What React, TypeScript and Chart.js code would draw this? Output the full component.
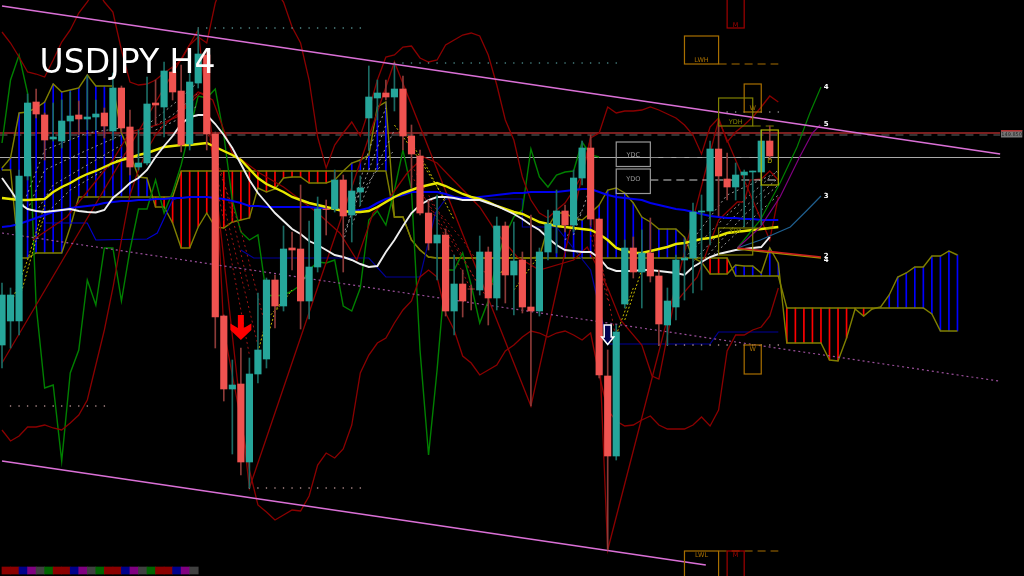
import React, { useEffect, useRef } from "react";
import { Chart, registerables } from "chart.js";

Chart.register(...registerables);

// All price-like values are "depth below the chart's top", so the value axis is reversed.
const opens = [345,321,321,176,102,115,139,141,121,115,119,117,113,131,88,127,167,163,103,107,72,91,144,83,55,134,316,389,384,462,374,359,280,306,248,249,301,267,209,209,180,215,192,118,98,93,97,89,136,156,213,243,235,311,284,289,290,252,298,226,275,260,307,311,252,225,211,225,178,148,219,376,456,304,248,272,253,276,325,307,260,258,212,211,149,179,187,175,172,172,141];
const closes = [295,295,176,103,114,140,137,121,116,119,117,114,126,88,128,167,163,104,105,71,92,145,82,54,134,317,389,385,462,374,350,280,306,249,250,301,267,209,209.6,180,216,191,188,97,93,97,89,136,154,213,243,235,311,284,301,289,252,298,226,275,261,307,311,252,224,211,225,178,148,219,375,456,332,248,272,253,276,324,301,260,258,212,211,149,176,187,175,172,171,141,156];
const highs = [283,288,170,94,89,113,103,100,92,101,76,100,108,73,86,110,130,77,80,62,68,65,70,29,50,132,315,360,348,358,293,278,275,226,232,185,221,197,200,170,175,172,176,66,80,80,65,76,125,150,200,195,229,255,270,285,236,247,217,222,222,252,215,248,210,190,205,170,141,135,218,350,325,240,237,230,218,270,288,255,240,203,195,141,120,153,163,170,171,130,126];
const lows = [368,348,335,180,118,160,141,148,140,135,130,130,138,140,132,175,170,165,125,137,100,152,150,88,150,348,401,454,475,488,383,368,328,311,270,329,319,272,235,212,272,242,205,150,120,100,111,150,188,215,250,280,316,335,317,310,295,325,310,303,315,313,406,316,260,253,232,232,185,225,378,550,460,308,278,308,282,345,345,320,300,293,290,245,216,200,200,227,228,225,160];

const whiteMA = [178,190,203,209,211,212,211,210,209,211,212,212.5,210,198,191,183,178,170,157,146,136,124,117,115,115,124,135,148,164,180,193,203,213,221,229,234,241,245,250,255,257,260,264,267,266,252,240,226,213,205,200,197,197,198,200,200,200,203,206,210,214,219,225,230,238,245,250,251,252,252,258,268,271,271,271,270,270,271,272,273,275,267,262,257,254,252,250,249,248,247,237];
const yellowMA = [198,199,200,200,199.5,199,192,187,183,178,174,171,167,163,160,158,155,153,150,147,146,145,145,144,143,147,151,155,160,169,178,184,188,192,197,200,203,205,207,209,211,212,212,211,207,202,197,193,190,187,185,183,186,190,194,197,199,202,206,209,212,214,218,222,224,226,227,228,229,230,234,240,248,251,253,253,251,249,247,244,243,241,239,238,236,233,232,231,230,229,228,227];
const blueMA = [227,226,224,221,218,215,212,210,208,207,206,205,203,202,201,201,200,200,199,199,198,198,197,197,197,198,199,201,203,206,206,207,207,207,207,207,207,208,208,208,212,211,210,208,203,199,197,195,192,192,192,192,194,197,198,198,197,196,195,194,193,193,192,192,192,192,191,190,189,189,192,195,197,198,199,200,203,205,207,209,210,212,214,216,217,218,218,219,219,220,220,220];
const chikou = [143,80,55,93,305,388,385,461,373,350,280,305,248,248,301,250,209,209,180,213,192,165,130,96,98,89,135,200,232,240,235,295,296,295,291,285,270,262,263,260,306,311,288,220,211,225,190,150,190,350,455,370,270,270,253,285,323,301,260,235,217,210,149,177,187,175,172,171,142,155,157];
const upperBand = [32,43,57,72,74,77,60,42,30,13,2,-12,2,12,50,82,85,84,80,73,67,60,45,37,43,3,-20,-30,-30,-30,-30,-25,-10,2,27,43,80,137,168,145,133,122,136,110,80,57,55,47,46,58,62,60,45,40,35,33,36,55,85,120,140,177,200,213,218,210,203,190,175,138,133,107,113,111,111,110,107,110,114,118,125,135,154,127,118,142,132,125,117,107,96,102];
const lowerBand = [430,441,436,427,427,425,428,430,423,415,400,365,330,288,240,195,170,150,135,125,118,112,100,92,95,160,330,375,420,470,505,512,520,515,510,511,496,465,453,458,449,425,373,355,343,338,323,310,301,277,270,277,313,330,356,363,375,370,365,351,345,337,331,333,337,333,331,335,340,333,375,410,421,426,425,420,416,425,429,429,429,425,417,426,410,351,335,335,330,327,316,288];
const midBand: number[][] = [[3.6,240],[7.6,217],[13,160],[15,132],[18.2,125],[20.5,117],[23.2,93],[24.7,100],[27,153],[30.2,173],[33,187],[37,213],[39.6,233],[41.6,260],[43.5,213],[45.5,197],[47.5,173],[49.4,157],[51,163],[52.9,180],[56,207],[58,233],[60.4,257],[63,270],[67,260],[68.6,247],[71,288],[72.5,320],[75,345],[76.2,376],[77,379],[78.7,305],[81.5,277],[84,220],[86.2,202],[87,202],[87.7,180],[89,179],[90,171],[91,180]];
const zigzag: number[][] = [[0,363],[23,30],[29,488],[46,62],[62,406],[69,137],[71,550],[84,120],[90,240],[91,197]];
const navyUpper: number[][] = [[5,223],[10,223],[11,240],[17,239],[18.2,233],[20,200],[21,197]];
const navyLower: number[][] = [[28,250],[29.5,258],[39.6,258],[43,258],[45,277],[49,277],[50.8,213],[52,199],[61,199],[61,227],[65,227],[69,270],[71,344],[83,344],[84,332],[91,332]];

const spanA = [168,158,113,112,108,102,84,92,90,88,75,86,86,86,133,153,177,178,207,207,223,248,248,227,213,227,228,222,220,218,188,192,189,178,177,177,183,183,183,180,171,163,160,155,107,102,217,217,240,250,257,258,258,258,258,258,258,258,258,258,258,258,258,257,227,213,213,218,220,213,205,190,188,193,203,217,222,229,229,229,237,258,262,274,274,274,265,266,266,273,248,263,343,343,343,343,343,360,361,338,309,316,309,307,295,277,273,267,267,256,256,251,255];
const spanB = [170,170,258,258,253,253,253,253,227,197,197,197,197,197,197,197,197,197,197,197,197,171,171,171,171,171,171,171,171,171,171,171,171,171,171,171,171,171,171,171,171,171,171,171,171,171,217,217,240,250,257,258,258,258,258,258,258,258,258,258,258,258,258,258,258,258,258,258,258,258,258,258,258,258,258,258,258,258,258,258,258,258,258,258,258,258,276,276,276,276,276,276,308,308,308,308,308,308,308,308,308,308,308,308,308,308,308,308,308,314,331,331,331];

const grayFans: number[][][] = [
  [[2,215],[5,150],[10,133],[14,128]],[[3,210],[5,170],[10,150],[14,135]],[[4,212],[6,185],[10,165],[14,145]],[[5,215],[8,190],[12,170],[15,150]],
  [[17,125],[20,105],[23,82]],[[17,130],[20,115],[23,93]],[[18,130],[21,118],[23,105]],
  [[40,242],[43,150],[45,108]],[[40,235],[43,170],[45,125]],[[41,225],[44,165],[46,130]],[[41,205],[44,170],[46,150]],
  [[67,235],[69,186]],[[66,240],[68,210]],
  [[80,250],[85,195],[91,172]],[[80,258],[85,215],[91,170]],[[81,262],[86,215],[91,178]],[[82,262],[87,215],[91,185]],[[83,258],[88,218],[91,195]],
];
const redFans: number[][][] = [
  [[24,130],[26,180],[29,290]],[[25,160],[28,230],[31,330]],[[25,170],[27,240],[30,345]],[[25,180],[26,220],[29,355]],
  [[48,165],[52,225],[56,288]],[[48,175],[51,220],[55,290]],[[49,190],[53,245],[57,300]],[[50,200],[54,240],[58,290]],
  [[69,225],[71,290]],[[69,235],[71,300]],[[70,250],[72,340]],
];
const yellowFans: number[][][] = [
  [[1,305],[3,260],[5,205]],[[2,300],[4,240],[5,215]],[[30,352],[31,320],[33,300]],[[31,340],[32,312],[34,290]],
  [[46,125],[49,160],[52,200]],[[47,130],[50,170],[53,220]],[[58,280],[60,250]],[[60,290],[63,255]],
  [[72,335],[74,288]],[[73,320],[75,270]],
];

const projGreen: number[][] = [[86.2,248],[88.9,220],[91.2,183],[93.2,147],[94.7,113],[96,87]];
const projPurple: number[][] = [[86.2,248],[88.9,227],[91.2,197],[93.5,157],[95,133],[95.9,125]];
const projSteel: number[][] = [[86.2,248],[88.9,240],[92.4,227],[94.4,210],[96,196]];
const projRed: number[][] = [[86.2,248],[96,257]];
const projOlive: number[][] = [[86.2,249],[96,258]];

const channelTop: number[][] = [[0,6],[117,154]];
const channelBottom: number[][] = [[0,461],[82.5,565]];
const channelMiddle: number[][] = [[0,233],[116.8,381]];

const levelRed: number[][] = [[-0.3,133],[117,133]];
const levelDash: number[][] = [[-0.3,135],[117,135]];
const levelGray: number[][] = [[-0.3,157.5],[117,157.5]];

const dotLevels = [
  { from: 23, to: 42, at: 28, color: "#5f9f9f" },
  { from: 46, to: 72, at: 63, color: "#4f8f8f" },
  { from: 84, to: 91, at: 112, color: "#999999" },
  { from: 1, to: 12, at: 406, color: "#c09a9a" },
  { from: 29, to: 42, at: 488, color: "#c09a9a" },
  { from: 77, to: 91, at: 345, color: "#c0a0a0" },
];
const dashLevels = [
  { from: 84, to: 91, at: 64, color: "#a86f00" },
  { from: 88, to: 91, at: 126, color: "#808000" },
  { from: 76, to: 88, at: 157.5, color: "#888888" },
  { from: 76, to: 91, at: 180, color: "#cccccc" },
  { from: 88, to: 91, at: 228, color: "#808000" },
  { from: 84, to: 91, at: 551, color: "#a86f00" },
];

const zoneLabels = ["LWH","M","W","YDH","D","YDC","YDO","YDL","W","LWL","M"];
const zoneLeft = [80,85,87,84,89,72,72,84,87,80,85];
const zoneRight = [84,87,89,88,91,76,76,88,89,84,87];
const zoneTop = [36,-4,84,98,130,142,169,228,345,551,551];
const zoneBottom = [64,28,112,126,185,166.5,193.5,255,374,600,600];
const zoneLabelAt = [60,25,108,122,161,155,179,231,349,555,555];
const zoneColors = ["#a86f00","#a00000","#a86f00","#808000","#b0b000","#999999","#999999","#808000","#a86f00","#a86f00","#a00000"];

const projLabels = ["4","5","3","2","4"];
const projLabelBar = [96.5,96.5,96.5,96.5,96.5];
const projLabelAt = [87,124,196,256,260];

const stripColors = ["#8b0000","#8b0000","#00008b","#800080","#404040","#006400","#8b0000","#8b0000","#00008b","#800080","#404040","#006400","#8b0000","#8b0000","#00008b","#800080","#404040","#006400","#8b0000","#8b0000","#00008b","#800080","#404040"];
const stripTop = 567;
const stripBottom = 574;

const title = "USDJPY H4";
const priceTag = "149.850";

const BULL = "#26a69a";
const BEAR = "#ef5350";
const BULL_WICK = "#1b6a63";
const BEAR_WICK = "#8c3a38";

const toPoints = (pairs: number[][]) => pairs.map(([x, y]) => ({ x, y }));
const perBar = (values: number[]) => values.map((y, i) => ({ x: i, y }));

const overlay = {
  id: "overlay",
  afterDatasetsDraw(chart: any) {
    const { ctx, scales } = chart;
    const X = (v: number) => scales.x.getPixelForValue(v);
    const Y = (v: number) => scales.y.getPixelForValue(v);
    ctx.save();
    zoneLabels.forEach((label, i) => {
      const left = X(zoneLeft[i]), right = X(zoneRight[i]);
      ctx.strokeStyle = zoneColors[i];
      ctx.lineWidth = 1.2;
      ctx.strokeRect(left, Y(zoneTop[i]), right - left, Y(zoneBottom[i]) - Y(zoneTop[i]));
      ctx.fillStyle = zoneColors[i];
      ctx.font = "6.5px 'DejaVu Sans'";
      ctx.textAlign = "center";
      ctx.textBaseline = "middle";
      ctx.fillText(label, (left + right) / 2, Y(zoneLabelAt[i]));
    });

    projLabels.forEach((label, i) => {
      ctx.fillStyle = "#ffffff";
      ctx.font = "bold 7px 'DejaVu Sans'";
      ctx.textAlign = "center";
      ctx.textBaseline = "middle";
      ctx.fillText(label, X(projLabelBar[i]) + 1, Y(projLabelAt[i]));
    });

    // sell arrow
    const rx = X(28), ry = Y(315);
    ctx.fillStyle = "#ff0000";
    ctx.beginPath();
    [[-3,0],[3,0],[3,13],[10.5,8.5],[10.5,15],[0,25],[-10.5,15],[-10.5,8.5],[-3,13]].forEach(([dx, dy], k) =>
      k ? ctx.lineTo(rx + dx, ry + dy) : ctx.moveTo(rx + dx, ry + dy));
    ctx.closePath();
    ctx.fill();

    // outlined arrow
    const wx = X(71), wy = Y(325);
    ctx.fillStyle = "#000050";
    ctx.strokeStyle = "#ffffff";
    ctx.lineWidth = 1.5;
    ctx.beginPath();
    [[-3.5,0],[3.5,0],[3.5,12],[6,12],[0,19.5],[-6,12],[-3.5,12]].forEach(([dx, dy], k) =>
      k ? ctx.lineTo(wx + dx, wy + dy) : ctx.moveTo(wx + dx, wy + dy));
    ctx.closePath();
    ctx.fill();
    ctx.stroke();

    // price tag
    const tagL = X(117.1), tagR = X(119.6), tagT = Y(130), tagB = Y(137.5);
    ctx.fillStyle = "#777777";
    ctx.fillRect(tagL, tagT, tagR - tagL, tagB - tagT);
    ctx.fillStyle = "#b03030";
    ctx.fillRect(tagL, tagT, tagR - tagL, 1.5);
    ctx.fillStyle = "#222222";
    ctx.font = "5px 'DejaVu Sans'";
    ctx.textAlign = "center";
    ctx.textBaseline = "middle";
    ctx.fillText(priceTag, (tagL + tagR) / 2, Y(134.5));

    ctx.fillStyle = "#ffffff";
    ctx.font = "33px 'DejaVu Sans'";
    ctx.textAlign = "left";
    ctx.textBaseline = "alphabetic";
    ctx.fillText(title, X(4.4), Y(73));
    ctx.restore();
  },
};

export default function App() {
  const ref = useRef<HTMLCanvasElement>(null);
  useEffect(() => {
    document.body.style.margin = "0";
    document.body.style.background = "#000";
    const line = (data: any[], color: string, width = 1, dash: number[] = []) => ({
      type: "line",
      data,
      borderColor: color,
      borderWidth: width,
      borderDash: dash,
      pointRadius: 0,
      tension: 0,
      spanGaps: true,
      fill: false,
    });
    const bars = (data: any[], colors: string | string[], thickness: number) => ({
      type: "bar",
      data,
      backgroundColor: colors,
      barThickness: thickness,
      grouped: false,
      borderWidth: 0,
      borderSkipped: false,
    });
    const dots = (from: number, to: number, at: number, color: string) => {
      const data: { x: number; y: number }[] = [];
      for (let i = from; i <= to; i++) data.push({ x: i, y: at });
      return { type: "line", data, showLine: false, pointRadius: 0.8, pointBorderWidth: 0, pointBackgroundColor: color };
    };

    const back: any[] = [
      line(toPoints(levelRed), "#a52a2a", 1.4),
      line(toPoints(levelDash), "#666666", 1.2, [8, 6]),
      line(toPoints(levelGray), "#aaaaaa", 1.2),
      bars(spanA.map((a, i) => ({ x: i, y: [a, spanB[i]] })), spanA.map((a, i) => (a < spanB[i] ? "#0000ff" : "#ff0000")), 1),
      line(perBar(spanA), "#808000", 1.4),
      line(perBar(spanB), "#808000", 1.4),
      line(toPoints(navyUpper), "#0000cc", 1.2),
      line(toPoints(navyLower), "#000099", 1.2),
      line(perBar(chikou), "#008000", 1.4),
      ...grayFans.map((f) => line(toPoints(f), "#9a9a9a", 1, [2, 3])),
      ...redFans.map((f) => line(toPoints(f), "#a01515", 1, [2, 3])),
      ...yellowFans.map((f) => line(toPoints(f), "#c8bc00", 1, [2, 2])),
      line(perBar(upperBand), "#8b0000", 1.3),
      line(perBar(lowerBand), "#8b0000", 1.3),
      line(toPoints(midBand), "#8b0000", 1.3),
      line(toPoints(zigzag), "#8b0000", 1.3),
      line(perBar(blueMA), "#0000ee", 2.2),
      line(perBar(yellowMA), "#e8e800", 2.4),
      line(perBar(whiteMA), "#eeeeee", 1.9),
      line(toPoints(projGreen), "#008000", 1.2),
      line(toPoints(projPurple), "#800080", 1.2),
      line(toPoints(projSteel), "#1f5f8f", 1.2),
      line(toPoints(projOlive), "#a09000", 1.3),
      line(toPoints(projRed), "#cc2020", 1.3),
      ...dashLevels.map((d) => line([{ x: d.from, y: d.at }, { x: d.to, y: d.at }], d.color, 1.2, [8, 5])),
      ...dotLevels.map((d) => dots(d.from, d.to, d.at, d.color)),
      line(toPoints(channelMiddle), "#9a4f9a", 1.2, [2, 3]),
      line(toPoints(channelTop), "#da70d6", 1.7),
      line(toPoints(channelBottom), "#da70d6", 1.7),
      bars(opens.map((o, i) => ({ x: i, y: [highs[i], lows[i]] })), opens.map((o, i) => (closes[i] < o ? BULL_WICK : BEAR_WICK)), 1),
      bars(opens.map((o, i) => ({ x: i, y: [o, closes[i]] })), opens.map((o, i) => (closes[i] < o ? BULL : BEAR)), 6.5),
      bars(stripColors.map((_, i) => ({ x: i + 0.5, y: [stripTop, stripBottom] })), stripColors, 8.6),
    ];
    const datasets = back.map((d, i) => ({ ...d, order: back.length - i }));

    const chart = new Chart(ref.current as HTMLCanvasElement, {
      type: "bar",
      data: { datasets },
      options: {
        animation: false,
        responsive: false,
        maintainAspectRatio: false,
        layout: { padding: 0, autoPadding: false },
        plugins: { legend: { display: false }, tooltip: { enabled: false }, title: { display: false } },
        scales: {
          x: { type: "linear", display: false, min: -0.2345, max: 119.8, offset: false, grid: { display: false } },
          y: { type: "linear", display: false, min: 0, max: 576, reverse: true, grid: { display: false } },
        },
      },
      plugins: [overlay],
    } as any);
    return () => chart.destroy();
  }, []);
  return (
    <div style={{ width: 1024, height: 576, background: "#000" }}>
      <canvas ref={ref} width={1024} height={576} style={{ display: "block" }} />
    </div>
  );
}
